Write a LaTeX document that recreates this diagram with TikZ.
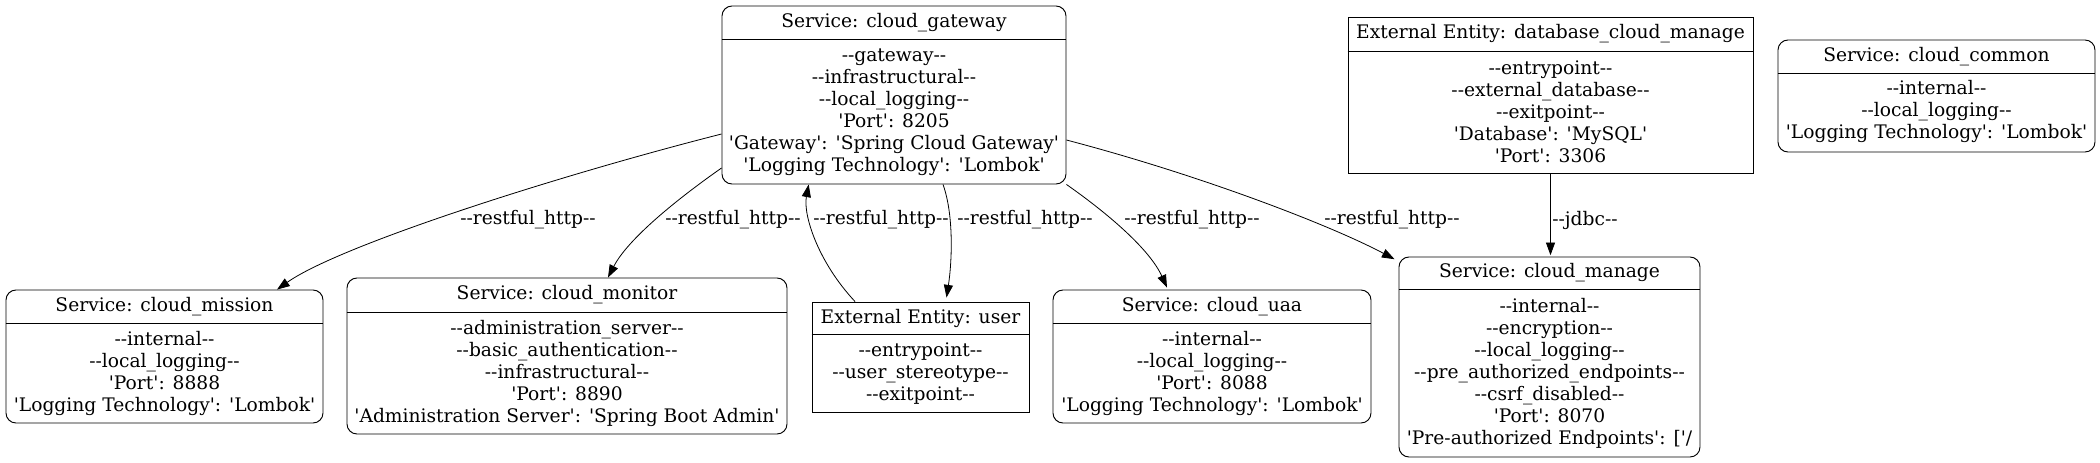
\documentclass[tikz,border=0pt]{standalone}
\usepackage{fontspec}
\setmainfont{DejaVu Serif}[Ligatures=TeXOff]
\usetikzlibrary{arrows.meta}
\begin{document}
\begin{tikzpicture}[x=0.75pt,y=-0.75pt,
  every node/.style={font=\fontsize{14}{16.5}\selectfont},
  svc/.style={draw, rounded corners=7.5pt, line width=0.7pt, inner sep=0pt},
  ext/.style={draw, line width=0.7pt, inner sep=0pt},
  ttl/.style={inner sep=0pt, align=center},
  bdy/.style={inner sep=0pt, align=center},
  lbl/.style={inner sep=0pt},
  sepline/.style={line width=0.7pt},
  flow/.style={-{Triangle[length=9.5pt,width=6.8pt]}, line width=0.6pt}]
\useasboundingbox (0,0) rectangle (2100,462);

% cloud_gateway
\node[svc, minimum width=258pt, minimum height=133.5pt] (gw) at (894,95) {};
\draw[sepline] (gw.west |- 0,39) -- (gw.east |- 0,39);
\node[ttl] (gwT) at (894,23) {Service: cloud\_gateway};
\node[bdy] (gwB) at (894,112) {--gateway--\\--infrastructural--\\--local\_logging--\\'Port': 8205\\'Gateway': 'Spring Cloud Gateway'\\'Logging Technology': 'Lombok'};

% database_cloud_manage
\node[ext, minimum width=303.75pt, minimum height=117pt] (db) at (1550.5,95) {};
\draw[sepline] (db.west |- 0,51) -- (db.east |- 0,51);
\node[ttl] (dbT) at (1550.5,34) {External Entity: database\_cloud\_manage};
\node[bdy] (dbB) at (1550.5,112) {--entrypoint--\\--external\_database--\\--exitpoint--\\'Database': 'MySQL'\\'Port': 3306};

% cloud_common
\node[svc, minimum width=237.75pt, minimum height=84pt] (common) at (1936.5,96) {};
\draw[sepline] (common.west |- 0,73) -- (common.east |- 0,73);
\node[ttl] (commonT) at (1936.5,56.5) {Service: cloud\_common};
\node[bdy] (commonB) at (1936.5,111) {--internal--\\--local\_logging--\\'Logging Technology': 'Lombok'};

% cloud_mission
\node[svc, minimum width=237.75pt, minimum height=99.75pt] (mission) at (164.5,356.5) {};
\draw[sepline] (mission.west |- 0,323) -- (mission.east |- 0,323);
\node[ttl] (missionT) at (164.5,306.5) {Service: cloud\_mission};
\node[bdy] (missionB) at (164.5,373) {--internal--\\--local\_logging--\\'Port': 8888\\'Logging Technology': 'Lombok'};

% cloud_monitor
\node[svc, minimum width=330pt, minimum height=117pt] (monitor) at (567,356) {};
\draw[sepline] (monitor.west |- 0,312) -- (monitor.east |- 0,312);
\node[ttl] (monitorT) at (567,295) {Service: cloud\_monitor};
\node[bdy] (monitorB) at (567,373) {--administration\_server--\\--basic\_authentication--\\--infrastructural--\\'Port': 8890\\'Administration Server': 'Spring Boot Admin'};

% user
\node[ext, minimum width=162.75pt, minimum height=82.5pt] (user) at (920.5,357) {};
\draw[sepline] (user.west |- 0,334) -- (user.east |- 0,334);
\node[ttl] (userT) at (920.5,318) {External Entity: user};
\node[bdy] (userB) at (920.5,373.5) {--entrypoint--\\--user\_stereotype--\\--exitpoint--};

% cloud_uaa
\node[svc, minimum width=238.5pt, minimum height=99.75pt] (uaa) at (1212,356.5) {};
\draw[sepline] (uaa.west |- 0,323) -- (uaa.east |- 0,323);
\node[ttl] (uaaT) at (1212,306.5) {Service: cloud\_uaa};
\node[bdy] (uaaB) at (1212,373) {--internal--\\--local\_logging--\\'Port': 8088\\'Logging Technology': 'Lombok'};

% cloud_manage
\node[svc, minimum width=225.75pt, minimum height=150pt] (manage) at (1549.5,357) {};
\draw[sepline] (manage.west |- 0,289) -- (manage.east |- 0,289);
\node[ttl] (manageT) at (1549.5,273) {Service: cloud\_manage};
\node[bdy] (manageB) at (1549.5,373) {--internal--\\--encryption--\\--local\_logging--\\--pre\_authorized\_endpoints--\\--csrf\_disabled--\\'Port': 8070\\'Pre-authorized Endpoints': ['/};

% connectors
\draw[flow] ([yshift=-29.25pt]gw.west) .. controls (560,175) and (340,245) .. ([xshift=84.4pt]mission.north);
\draw[flow] ([yshift=-54.75pt]gw.west) .. controls (690,190) and (630,235) .. ([xshift=30.75pt]monitor.north);
\draw[flow] ([xshift=-49.1pt]user.north) .. controls (818,262) and (803,215) .. ([xshift=-64pt]gw.south);
\draw[flow] ([xshift=36.75pt]gw.south) .. controls (954,215) and (952,262) .. ([xshift=19.5pt,yshift=3pt]user.north);
\draw[flow] (gw.south east) .. controls (1110,215) and (1150,250) .. ([xshift=-33.75pt,yshift=1.5pt]uaa.north);
\draw[flow] ([yshift=-33.75pt]gw.east) .. controls (1200,175) and (1330,225) .. ([xshift=-3pt,yshift=-2pt]manage.north west);
\draw[flow] (db.south) -- ([yshift=1pt]db.south |- manage.north);

% labels
\node[lbl] (l1) at (528,220) {--restful\_http--};
\node[lbl] (l2) at (733,220) {--restful\_http--};
\node[lbl] (l3) at (881,220) {--restful\_http--};
\node[lbl] (l4) at (1025,220) {--restful\_http--};
\node[lbl] (l5) at (1192,220) {--restful\_http--};
\node[lbl] (l6) at (1392,220) {--restful\_http--};
\node[lbl] (l7) at (1585,220) {--jdbc--};
\end{tikzpicture}
\end{document}
